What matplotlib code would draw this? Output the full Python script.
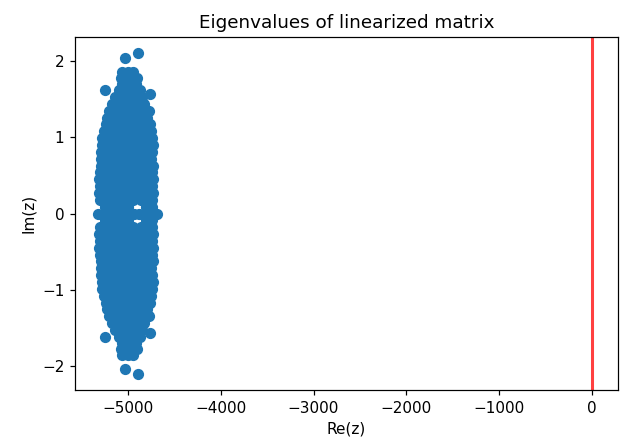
import matplotlib
matplotlib.use("Agg")
import matplotlib.pyplot as plt

# eigenvalues with Im > 0 (the matrix is real, so the conjugates are drawn too)
im_levels = [0.09, 0.18, 0.27, 0.36, 0.45, 0.54, 0.63, 0.72, 0.81, 0.90,
             0.99, 1.08, 1.17, 1.26, 1.35, 1.44, 1.53, 1.57, 1.62, 1.70,
             1.78, 1.86, 2.04, 2.11]
re_rows = [
    [-5250, -5195, -5140, -5080, -5025, -4995, -4800, -4765, -4735],
    [-5300, -5240, -5180, -5120, -5060, -5000, -4945, -4855, -4790, -4735],
    [-5310, -5250, -5190, -5130, -5070, -5010, -4950, -4900, -4850, -4790, -4730],
    [-5300, -5245, -5185, -5125, -5065, -5005, -4945, -4885, -4825, -4770, -4740],
    [-5310, -5250, -5190, -5130, -5070, -5010, -4950, -4890, -4830, -4775, -4725],
    [-5300, -5240, -5180, -5120, -5060, -5000, -4940, -4880, -4820, -4765, -4735],
    [-5295, -5235, -5175, -5115, -5055, -4995, -4935, -4875, -4815, -4760, -4730],
    [-5290, -5230, -5170, -5110, -5050, -4990, -4930, -4870, -4810, -4750],
    [-5285, -5225, -5165, -5105, -5045, -4985, -4925, -4865, -4805, -4745],
    [-5280, -5220, -5160, -5100, -5040, -4980, -4920, -4860, -4800, -4725],
    [-5275, -5215, -5155, -5095, -5035, -4975, -4915, -4855, -4795, -4745],
    [-5260, -5200, -5140, -5080, -5020, -4960, -4900, -4840, -4780, -4750],
    [-5240, -5180, -5120, -5060, -5000, -4940, -4880, -4820, -4765],
    [-5220, -5160, -5100, -5040, -4980, -4920, -4860, -4800, -4790],
    [-5200, -5140, -5080, -5020, -4960, -4900, -4840, -4775],
    [-5175, -5115, -5055, -4995, -4935, -4875, -4825],
    [-5135, -5075, -5015, -4955, -4895, -4850],
    [-4760],
    [-5250, -5095, -5040, -4980, -4920, -4870],
    [-5060, -5000, -4945, -4910],
    [-5075, -5010, -4950, -4905],
    [-5060, -5000, -4940],
    [-5030],
    [-4890],
]
# real eigenvalues
re_real = [-5320, -5265, -5210, -5155, -5100, -5045, -4990, -4935, -4880,
           -4825, -4770, -4715, -4690]

re = list(re_real)
im = [0.0] * len(re_real)
for lev, row in zip(im_levels, re_rows):
    for r in row:
        re += [r, r]
        im += [lev, -lev]

fig = plt.figure(figsize=(629 / 110, 446 / 110), dpi=110)
ax = fig.add_axes([0.1192, 0.1256, 0.8633, 0.7914])

ax.scatter(re, im, s=40, color="#1f77b4")
ax.axvline(0, color="red", lw=2, alpha=0.75)

ax.set_xlim(-5570, 280)
ax.set_ylim(-2.32, 2.32)
ax.set_title("Eigenvalues of linearized matrix")
ax.set_xlabel("Re(z)")
ax.set_ylabel("Im(z)")

fig.savefig("out.png", dpi=110)
